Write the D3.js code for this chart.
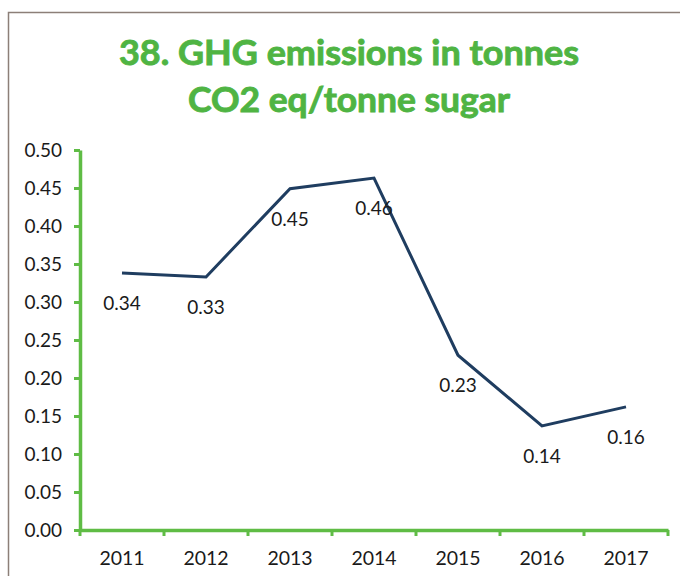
<!DOCTYPE html>
<html lang="en">
<head>
  <meta charset="UTF-8">
  <title>GHG emissions per tonne sugar</title>
  <style>
    :root {
      --title-green: #4fb443;
      --axis-green: #5fbc45;
      --line-navy: #1f3d60;
      --frame: #8c7f78;
    }
    html, body {
      margin: 0;
      padding: 0;
      background: #fff;
      overflow: hidden;
    }
    svg {
      display: block;
      font-family: Lato, "Open Sans", sans-serif;
    }
  </style>
</head>
<body>
  <svg id="chart" width="680" height="576"></svg>

  <script src="https://d3js.org/d3.v7.min.js"></script>
  <script>
    // chart data
    const years = ["2011", "2012", "2013", "2014", "2015", "2016", "2017"];
    const emissions = [0.338, 0.333, 0.449, 0.463, 0.230, 0.137, 0.162];
    const valueLabels = ["0.34", "0.33", "0.45", "0.46", "0.23", "0.14", "0.16"];
    const yTicks = [0, 0.05, 0.10, 0.15, 0.20, 0.25, 0.30, 0.35, 0.40, 0.45, 0.50];
    const titleLines = ["38. GHG emissions in tonnes", "CO2 eq/tonne sugar"];

    const css = getComputedStyle(document.documentElement);
    const titleGreen = css.getPropertyValue('--title-green').trim();
    const axisGreen = css.getPropertyValue('--axis-green').trim();
    const lineNavy = css.getPropertyValue('--line-navy').trim();
    const frameColor = css.getPropertyValue('--frame').trim();

    const svg = d3.select("#chart");
    const width = 680, height = 576;
    const textDark = "#1a1a1a";

    // frame (only top and left edges show in the crop)
    svg.append("path")
      .attr("d", `M8.5,${height} L8.5,12.5 L${width},12.5`)
      .attr("fill", "none")
      .attr("stroke", frameColor)
      .attr("stroke-width", 1.5);

    // title - thin stroke to get the heavier Calibri-bold look
    svg.append("g")
      .selectAll("text")
      .data(titleLines)
      .enter()
      .append("text")
      .attr("x", 349)
      .attr("y", (d, i) => 65 + i * 47)
      .attr("text-anchor", "middle")
      .attr("fill", titleGreen)
      .attr("stroke", titleGreen)
      .attr("stroke-width", 0.9)
      .style("font-size", "35px")
      .style("font-weight", "bold")
      .attr("textLength", (d, i) => i === 0 ? 460 : 322)
      .attr("lengthAdjust", "spacingAndGlyphs")
      .text(d => d);

    // scales
    const x = d3.scaleBand()
      .domain(years)
      .range([80, 668]);
    const y = d3.scaleLinear()
      .domain([0, 0.5])
      .range([530, 150]);

    // y axis
    const yAxis = svg.append("g")
      .attr("transform", "translate(80,0)")
      .call(d3.axisLeft(y)
        .tickValues(yTicks)
        .tickFormat(d3.format(".2f"))
        .tickSizeInner(6)
        .tickSizeOuter(0)
        .tickPadding(12));
    yAxis.select(".domain")
      .attr("stroke", axisGreen)
      .attr("stroke-width", 3.5);
    yAxis.selectAll(".tick line")
      .attr("stroke", axisGreen)
      .attr("stroke-width", 3);
    yAxis.selectAll(".tick text")
      .attr("fill", textDark)
      .style("font-size", "19px")
      .style("font-family", "Lato, sans-serif");

    // x axis: labels centred in bands, ticks at band edges
    const xAxis = svg.append("g")
      .attr("transform", "translate(0,530)")
      .call(d3.axisBottom(x)
        .tickSize(0)
        .tickPadding(21));
    xAxis.select(".domain")
      .attr("stroke", axisGreen)
      .attr("stroke-width", 3.5);
    xAxis.selectAll(".tick text")
      .attr("fill", textDark)
      .style("font-size", "19.5px")
      .style("font-family", "Lato, sans-serif");

    const edges = years.map(d => x(d)).concat([x.range()[1]]);
    xAxis.selectAll("line.edge")
      .data(edges)
      .enter()
      .append("line")
      .classed("edge", true)
      .attr("x1", d => d)
      .attr("x2", d => d)
      .attr("y1", 0)
      .attr("y2", 6)
      .attr("stroke", axisGreen)
      .attr("stroke-width", 3);

    // the line
    const pts = years.map((d, i) => ({ year: d, value: emissions[i], label: valueLabels[i] }));
    const line = d3.line()
      .x(d => x(d.year) + x.bandwidth() / 2)
      .y(d => y(d.value));

    svg.append("path")
      .datum(pts)
      .attr("d", line)
      .attr("fill", "none")
      .attr("stroke", lineNavy)
      .attr("stroke-width", 3)
      .attr("stroke-linejoin", "miter");

    // value labels under each point
    svg.append("g")
      .selectAll("text")
      .data(pts)
      .enter()
      .append("text")
      .attr("x", d => x(d.year) + x.bandwidth() / 2)
      .attr("y", d => y(d.value) + 37)
      .attr("text-anchor", "middle")
      .attr("fill", textDark)
      .style("font-size", "19px")
      .text(d => d.label);
  </script>
</body>
</html>
